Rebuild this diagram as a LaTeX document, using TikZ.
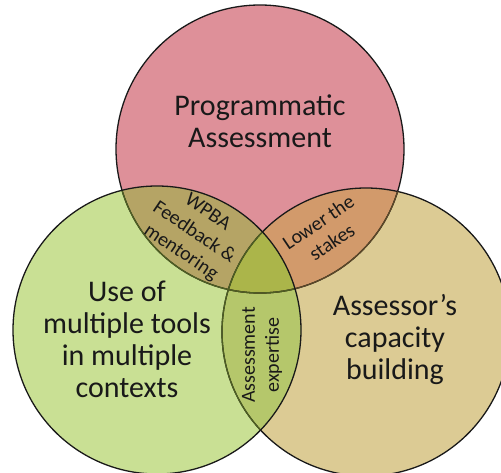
\documentclass[tikz,border=0pt]{standalone}
\usepackage{fontspec}
\setmainfont{Carlito}
\usetikzlibrary{positioning}
\definecolor{progfill}{RGB}{222,144,153}
\definecolor{toolfill}{RGB}{201,224,148}
\definecolor{capfill}{RGB}{220,203,148}
\definecolor{progtool}{RGB}{181,164,101}
\definecolor{progcap}{RGB}{210,154,107}
\definecolor{toolcap}{RGB}{181,199,107}
\definecolor{allfill}{RGB}{171,181,74}
\definecolor{oliveline}{RGB}{78,95,34}
\definecolor{brownline}{RGB}{92,72,40}
\newcommand{\rad}{144pt}
\tikzset{
    venn/.style={
        circle,
        minimum size=288pt,
        inner sep=0pt
    },
    ring/.style={
        draw=black!90,
        line width=1.3pt
    },
    biglabel/.style={
        align=center,
        text=black!90,
        font=\fontsize{30}{32}\selectfont
    },
    smalllabel/.style={
        align=center,
        text=black!90,
        font=\fontsize{20}{24}\selectfont
    }
}
\begin{document}
\begin{tikzpicture}[x=1pt, y=-1pt]
    \useasboundingbox (0,0) rectangle (501,473);
    \clip (0,0) rectangle (501,473);
    % the three sets
    \node[venn, fill=progfill] (prog) at (260,149) {};
    \node[venn, fill=capfill] (cap) at (366,332) {};
    \node[venn, fill=toolfill] (tool) at (157,330) {};
    % overlaps
    \begin{scope}
        \clip (prog.center) circle[radius=\rad];
        \fill[progtool] (tool.center) circle[radius=\rad];
        \fill[progcap] (cap.center) circle[radius=\rad];
    \end{scope}
    \begin{scope}
        \clip (tool.center) circle[radius=\rad];
        \fill[toolcap] (cap.center) circle[radius=\rad];
        \clip (prog.center) circle[radius=\rad];
        \fill[allfill] (cap.center) circle[radius=\rad];
    \end{scope}
    % outlines
    \foreach \c in {prog,cap}
        \draw[ring] (\c.center) circle[radius=\rad];
    \begin{scope}
        \clip (cap.center) circle[radius=\rad];
        \draw[ring, draw=brownline] (prog.center) circle[radius=\rad];
    \end{scope}
    \begin{scope}
        \clip (tool.center) circle[radius=\rad];
        \draw[ring, draw=oliveline] (prog.center) circle[radius=\rad];
        \draw[ring, draw=oliveline] (cap.center) circle[radius=\rad];
    \end{scope}
    \draw[ring] (tool.center) circle[radius=\rad];
    % labels
    \node[biglabel] (progtext) at (260,121) {Programmatic\\Assessment};
    \node[biglabel] (tooltext) at (127,339) {Use of\\multiple tools\\in multiple\\contexts};
    \node[biglabel] (captext) at (395,340) {Assessor’s\\capacity\\building};
    \node[smalllabel, rotate=-34] (feedtext) at (194,233) {WPBA\\Feedback \&\\mentoring};
    \node[smalllabel, rotate=34] (staketext) at (325,232) {Lower the\\stakes};
    \node[smalllabel, rotate=90] (experttext) at (262,355) {Assessment\\expertise};
\end{tikzpicture}
\end{document}
